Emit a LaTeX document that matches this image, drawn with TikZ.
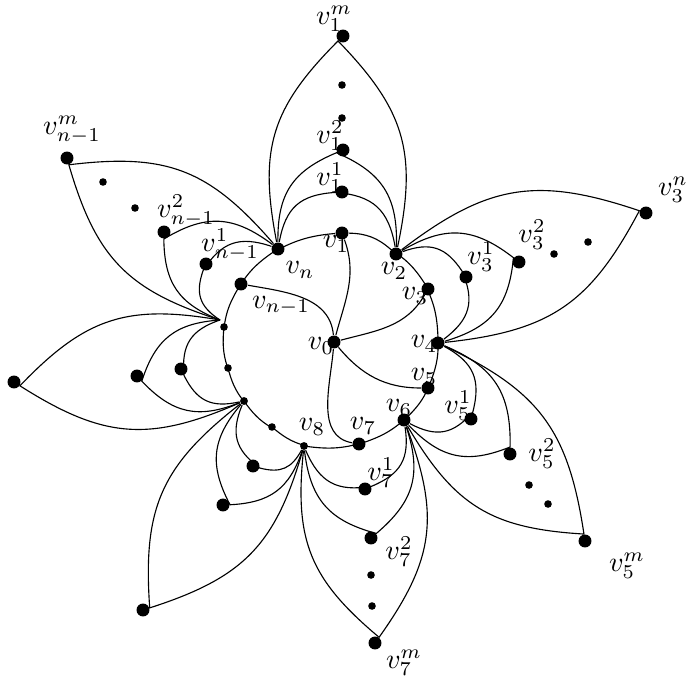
\documentclass[tikz,border=0pt]{standalone}
\usetikzlibrary{positioning}
\begin{document}
\begin{tikzpicture}[
  x=0.0125cm, y=-0.0125cm,
  big dot/.style   = {circle, fill, inner sep=0pt, minimum size=4.6pt},
  small dot/.style = {circle, fill, inner sep=0pt, minimum size=2.7pt},
  hub dot/.style   = {circle, fill, inner sep=0pt, minimum size=2.8pt},
  lab/.style  = {inner sep=0pt},
  ring/.style = {bend left=12},
  p1/.style = {bend left=38, looseness=1.2},
  p2/.style = {bend left=34, looseness=1.15},
  p3/.style = {bend left=28, looseness=1.15},
]
\useasboundingbox (0,0) rectangle (686,676);

% inner wheel
\node[big dot]   (v0)  at (334,342) {};
\node[big dot]   (v1)  at (342,233) {};
\node[big dot]   (v2)  at (396,254) {};
\node[big dot]   (v3)  at (428,289) {};
\node[big dot]   (v4)  at (438,343) {};
\node[big dot]   (v5)  at (428,388) {};
\node[big dot]   (v6)  at (404,420) {};
\node[big dot]   (v7)  at (359,444) {};
\node[hub dot]   (v8)  at (304,446) {};
\node[small dot] (d1)  at (272,427) {};
\node[hub dot]   (h1)  at (244,401) {};
\node[small dot] (d2)  at (228,368) {};
\node[small dot] (d3)  at (224,327) {};
\coordinate      (h2)  at (220,320);
\node[big dot]   (vm1) at (241,284) {};
\node[big dot]   (vn)  at (278,249) {};

\node[lab] (l0)  at (321,346) {$v_0$};
\node[lab] (l1)  at (336,244) {$v_1$};
\node[lab] (l2)  at (394,271) {$v_2$};
\node[lab] (l3)  at (415,296) {$v_3$};
\node[lab] (l4)  at (424,344) {$v_4$};
\node[lab] (l5)  at (424,377) {$v_5$};
\node[lab] (l6)  at (399,408) {$v_6$};
\node[lab] (l7)  at (363,426) {$v_7$};
\node[lab] (l8)  at (312,427) {$v_8$};
\node[lab] (lm1) at (281,306) {$v_{n-1}$};
\node[lab] (ln)  at (300,270) {$v_n$};

% petals
\node[big dot]   (v1a) at (342,192) {};
\node[big dot]   (v1b) at (343,150) {};
\node[small dot] (e1a) at (342,118) {};
\node[small dot] (e1b) at (342,85)  {};
\node[big dot]   (v1m) at (343,36)  {};

\node[big dot]   (v3a) at (466,277) {};
\node[big dot]   (v3b) at (519,262) {};
\node[small dot] (e3a) at (554,254) {};
\node[small dot] (e3b) at (588,242) {};
\node[big dot]   (v3n) at (646,213) {};

\node[big dot]   (v5a) at (471,419) {};
\node[big dot]   (v5b) at (510,454) {};
\node[small dot] (e5a) at (529,485) {};
\node[small dot] (e5b) at (548,504) {};
\node[big dot]   (v5m) at (585,541) {};

\node[big dot]   (v7a) at (365,489) {};
\node[big dot]   (v7b) at (371,538) {};
\node[small dot] (e7a) at (371,575) {};
\node[small dot] (e7b) at (372,606) {};
\node[big dot]   (v7m) at (375,643) {};

\node[big dot]   (w1)  at (253,466) {};
\node[big dot]   (w2)  at (223,505) {};
\node[big dot]   (w3)  at (143,610) {};

\node[big dot]   (q1)  at (181,369) {};
\node[big dot]   (q2)  at (137,376) {};
\node[big dot]   (q3)  at (14,382)  {};

\node[big dot]   (vm1a) at (206,264) {};
\node[big dot]   (vm1b) at (164,232) {};
\node[small dot] (em1a) at (135,208) {};
\node[small dot] (em1b) at (103,182) {};
\node[big dot]   (vm1m) at (67,158)  {};

\node[lab] (l1a)  at (330,178) {$v_1^1$};
\node[lab] (l1b)  at (330,136) {$v_1^2$};
\node[lab] (l1m)  at (334,19)  {$v_1^m$};
\node[lab] (l3a)  at (481,257) {$v_3^1$};
\node[lab] (l3b)  at (532,235) {$v_3^2$};
\node[lab] (l3n)  at (673,190) {$v_3^n$};
\node[lab] (l5a)  at (458,406) {$v_5^1$};
\node[lab] (l5b)  at (542,454) {$v_5^2$};
\node[lab] (l5m)  at (627,566) {$v_5^m$};
\node[lab] (l7a)  at (381,473) {$v_7^1$};
\node[lab] (l7b)  at (399,552) {$v_7^2$};
\node[lab] (l7m)  at (404,663) {$v_7^m$};
\node[lab] (lm1a) at (230,245) {$v_{n-1}^1$};
\node[lab] (lm1b) at (186,211) {$v_{n-1}^2$};
\node[lab] (lm1m) at (72,130)  {$v_{n-1}^m$};

\draw (v1) to[bend left=20] (v2) to[ring] (v3) to[ring] (v4) to[ring] (v5)
  to[ring] (v6) to[ring] (v7) to[ring] (v8) to[ring] (d1) to[ring] (h1)
  to[ring] (d2) to[ring] (d3) to[ring] (vm1) to[ring] (vn) to[ring] (v1);

\draw (v0) to[out=75, in=-70]  (v1);
\draw (v0) to[out=15, in=240]  (v3);
\draw (v0) to[out=-50, in=180] (v5);
\draw (v0) to[out=265, in=170] (v7);
\draw (v0) to[out=95, in=-10]  (vm1);

\draw (vn) to[p1] (v1a) to[p1] (v2);
\draw (vn) to[p2] (v1b) to[p2] (v2);
\draw (vn) to[p3] (v1m) to[p3] (v2);

\draw (v2) to[p1] (v3a) to[p1] (v4);
\draw (v2) to[p2] (v3b) to[p2] (v4);
\draw (v2) to[p3] (v3n) to[p3] (v4);

\draw (v4) to[p1] (v5a) to[p1] (v6);
\draw (v4) to[p2] (v5b) to[p2] (v6);
\draw (v4) to[p3] (v5m) to[p3] (v6);

\draw (v6) to[p1] (v7a) to[p1] (v8);
\draw (v6) to[p2] (v7b) to[p2] (v8);
\draw (v6) to[p3] (v7m) to[p3] (v8);

\draw (v8) to[p1] (w1) to[p1] (h1);
\draw (v8) to[p2] (w2) to[p2] (h1);
\draw (v8) to[p3] (w3) to[p3] (h1);

\draw (h1) to[p1] (q1) to[p1] (h2);
\draw (h1) to[p2] (q2) to[p2] (h2);
\draw (h1) to[p3] (q3) to[p3] (h2);

\draw (h2) to[p1] (vm1a) to[p1] (vn);
\draw (h2) to[p2] (vm1b) to[p2] (vn);
\draw (h2) to[p3] (vm1m) to[p3] (vn);

\end{tikzpicture}
\end{document}
